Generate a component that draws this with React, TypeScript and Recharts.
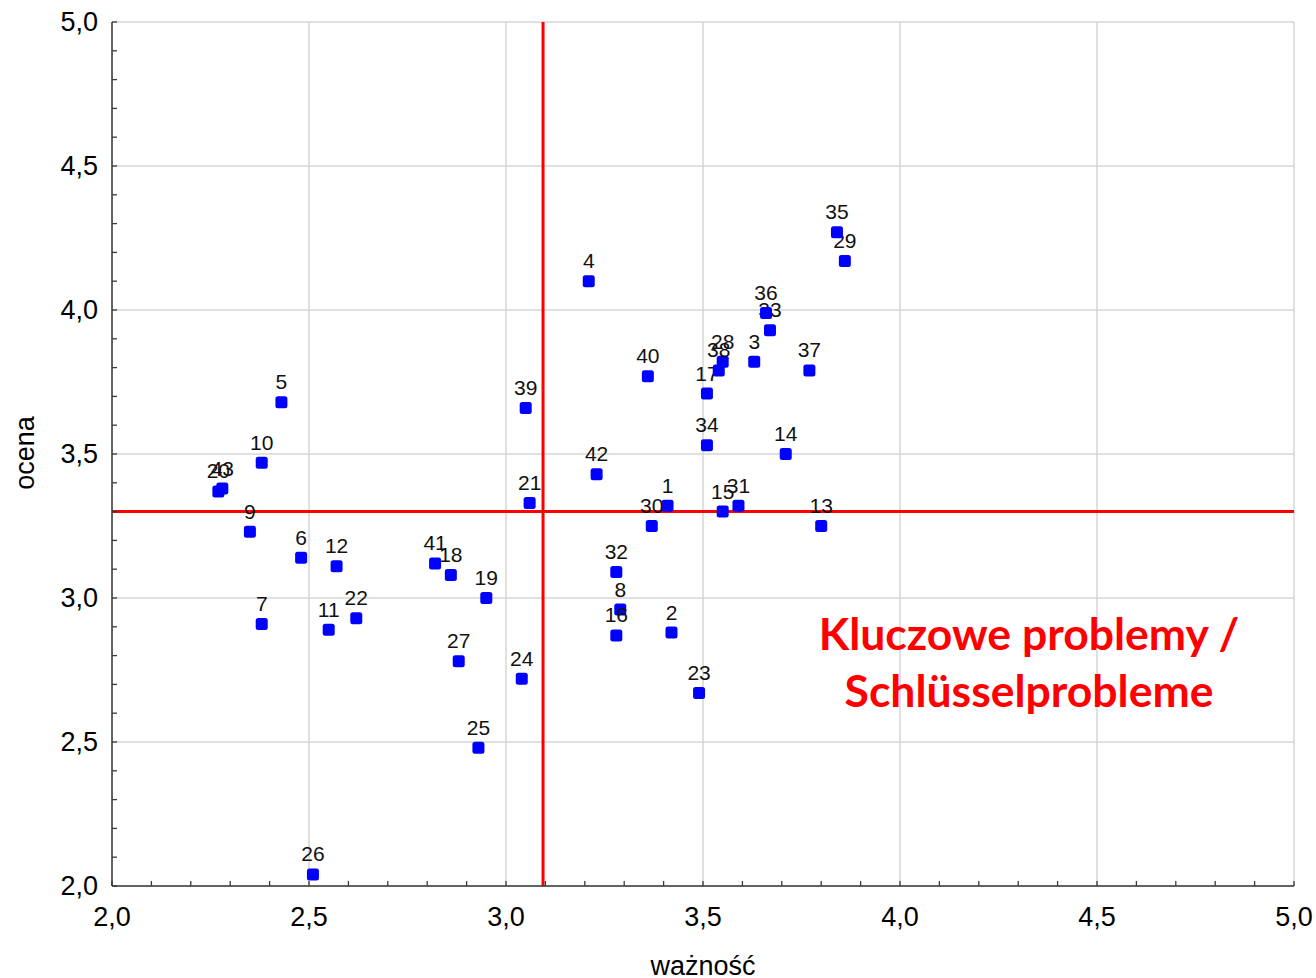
import React from 'react';
import { ScatterChart, Scatter, XAxis, YAxis, CartesianGrid, ReferenceLine } from 'recharts';

const ids = [1,2,3,4,5,6,7,8,9,10,11,12,13,14,15,16,17,18,19,20,21,22,23,24,25,26,27,28,29,30,31,32,33,34,35,36,37,38,39,40,41,42,43];
const importance = [3.41,3.42,3.63,3.21,2.43,2.48,2.38,3.29,2.35,2.38,2.55,2.57,3.80,3.71,3.55,3.28,3.51,2.86,2.95,2.27,3.06,2.62,3.49,3.04,2.93,2.51,2.88,3.55,3.86,3.37,3.59,3.28,3.67,3.51,3.84,3.66,3.77,3.54,3.05,3.36,2.82,3.23,2.28];
const rating = [3.32,2.88,3.82,4.10,3.68,3.14,2.91,2.96,3.23,3.47,2.89,3.11,3.25,3.50,3.30,2.87,3.71,3.08,3.00,3.37,3.33,2.93,2.67,2.72,2.48,2.04,2.78,3.82,4.17,3.25,3.32,3.09,3.93,3.53,4.27,3.99,3.79,3.79,3.66,3.77,3.12,3.43,3.38];

const majorTicks = [2.0, 2.5, 3.0, 3.5, 4.0, 4.5, 5.0];
const minorTicks = [2.0,2.1,2.2,2.3,2.4,2.5,2.6,2.7,2.8,2.9,3.0,3.1,3.2,3.3,3.4,3.5,3.6,3.7,3.8,3.9,4.0,4.1,4.2,4.3,4.4,4.5,4.6,4.7,4.8,4.9,5.0];
const meanImportance = 3.094;
const meanRating = 3.30;
const xTitle = 'ważność';
const yTitle = 'ocena';
const noteLines = ['Kluczowe problemy /', 'Schlüsselprobleme'];

const data = ids.map((id, i) => ({ id, x: importance[i], y: rating[i] }));

const FONT = '"Liberation Sans", Arial, sans-serif';
const fmt = (v: number) => v.toFixed(1).replace('.', ',');
const isMajor = (v: number) => majorTicks.some((m) => Math.abs(m - v) < 1e-6);
const TICK_LEN = 5;
const FRAME = '#3a3a3a';

const BottomTick = (props: any) => {
  const { x, y, payload } = props;
  return (
    <g>
      <line x1={x} x2={x} y1={y} y2={y - TICK_LEN} stroke={FRAME} strokeWidth={1.3} />
      {isMajor(payload.value) && (
        <text x={x} y={y + 31} textAnchor="middle" dominantBaseline="central" fontSize={27} fill="#000" fontFamily={FONT}>
          {fmt(payload.value)}
        </text>
      )}
    </g>
  );
};

const TopTick = (props: any) => {
  const { x, y } = props;
  return <line x1={x} x2={x} y1={y} y2={y + TICK_LEN} stroke={FRAME} strokeWidth={1.3} />;
};

const LeftTick = (props: any) => {
  const { x, y, payload } = props;
  return (
    <g>
      <line x1={x} x2={x + TICK_LEN} y1={y} y2={y} stroke={FRAME} strokeWidth={1.3} />
      {isMajor(payload.value) && (
        <text x={x - 14} y={y} textAnchor="end" dominantBaseline="central" fontSize={27} fill="#000" fontFamily={FONT}>
          {fmt(payload.value)}
        </text>
      )}
    </g>
  );
};

const RightTick = (props: any) => {
  const { x, y } = props;
  return <line x1={x} x2={x - TICK_LEN} y1={y} y2={y} stroke={FRAME} strokeWidth={1.3} />;
};

const PointShape = (props: any) => {
  const { cx, cy, payload } = props;
  return (
    <g>
      <rect x={cx - 6} y={cy - 6} width={12} height={12} rx={2.5} ry={2.5} fill="#0000FF" />
      <text x={cx} y={cy - 13} textAnchor="middle" fontSize={21} fill="#111" fontFamily={FONT}>
        {payload.id}
      </text>
    </g>
  );
};

export default function App() {
  return (
    <div style={{ position: 'absolute', left: 0, top: 0, width: 1316, height: 978, background: '#fff' }}>
      <ScatterChart width={1316} height={978} margin={{ top: 22, right: 22, bottom: 0, left: 0 }}>
        <CartesianGrid
          xAxisId="b"
          yAxisId="l"
          stroke="#d6d6d6"
          strokeWidth={1.5}
          horizontalValues={majorTicks}
          verticalValues={majorTicks}
        />
        <XAxis
          xAxisId="b"
          type="number"
          dataKey="x"
          domain={[2, 5]}
          ticks={minorTicks}
          interval={0}
          height={92}
          tickSize={0}
          tickMargin={0}
          tickLine={false}
          axisLine={{ stroke: FRAME, strokeWidth: 1.5 }}
          tick={<BottomTick />}
          allowDataOverflow
        />
        <XAxis
          xAxisId="t"
          orientation="top"
          type="number"
          domain={[2, 5]}
          ticks={minorTicks}
          interval={0}
          height={0}
          tickSize={0}
          tickMargin={0}
          tickLine={false}
          axisLine={{ stroke: FRAME, strokeWidth: 1.5 }}
          tick={<TopTick />}
          allowDataOverflow
        />
        <YAxis
          yAxisId="l"
          type="number"
          dataKey="y"
          domain={[2, 5]}
          ticks={minorTicks}
          interval={0}
          width={112}
          tickSize={0}
          tickMargin={0}
          tickLine={false}
          axisLine={{ stroke: FRAME, strokeWidth: 1.5 }}
          tick={<LeftTick />}
          allowDataOverflow
        />
        <YAxis
          yAxisId="r"
          orientation="right"
          type="number"
          domain={[2, 5]}
          ticks={minorTicks}
          interval={0}
          width={0}
          tickSize={0}
          tickMargin={0}
          tickLine={false}
          axisLine={{ stroke: FRAME, strokeWidth: 1.5 }}
          tick={<RightTick />}
          allowDataOverflow
        />
        <ReferenceLine xAxisId="b" yAxisId="l" x={meanImportance} stroke="#FF0000" strokeWidth={3} />
        <ReferenceLine xAxisId="b" yAxisId="l" y={meanRating} stroke="#FF0000" strokeWidth={3} />
        <Scatter xAxisId="b" yAxisId="l" data={data} shape={<PointShape />} isAnimationActive={false} />
      </ScatterChart>
      <div
        style={{
          position: 'absolute',
          left: 703 - 100,
          width: 200,
          top: 946,
          textAlign: 'center',
          fontFamily: FONT,
          fontSize: 27,
          lineHeight: '40px',
          color: '#000',
        }}
      >
        {xTitle}
      </div>
      <div
        style={{
          position: 'absolute',
          left: 25 - 100,
          top: 453 - 20,
          width: 200,
          height: 40,
          lineHeight: '40px',
          textAlign: 'center',
          transform: 'rotate(-90deg)',
          fontFamily: FONT,
          fontSize: 27,
          color: '#000',
        }}
      >
        {yTitle}
      </div>
      <div
        style={{
          position: 'absolute',
          left: 1029 - 300,
          width: 600,
          top: 604,
          textAlign: 'center',
          fontFamily: 'Lato, "Open Sans", sans-serif',
          fontWeight: 700,
          fontSize: 44.5,
          lineHeight: '57px',
          color: '#FF0000',
        }}
      >
        {noteLines.map((l) => (
          <div key={l}>{l}</div>
        ))}
      </div>
    </div>
  );
}
